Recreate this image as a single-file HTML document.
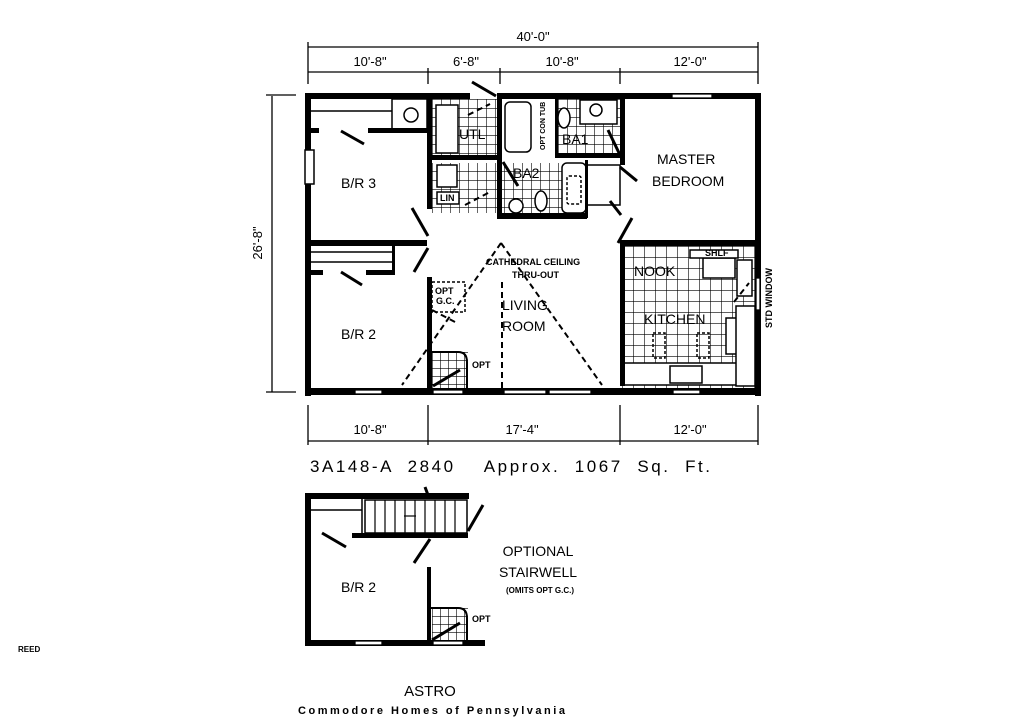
<!DOCTYPE html>
<html><head><meta charset="utf-8"><style>
html,body{margin:0;padding:0;background:#fff;}
svg{display:block;}
text{font-family:"Liberation Sans",Arial,sans-serif;fill:#000;}
</style></head><body>
<svg width="1024" height="719" viewBox="0 0 1024 719" xmlns="http://www.w3.org/2000/svg">
<defs>
<pattern id="t9" width="9" height="9" patternUnits="userSpaceOnUse"><path d="M0 0H9M0 0V9" stroke="#000" stroke-width="1.2" fill="none"/></pattern>
<pattern id="t11" width="11" height="11" patternUnits="userSpaceOnUse" x="622" y="246"><path d="M0 0H11M0 0V11" stroke="#000" stroke-width="1.2" fill="none"/></pattern>
<pattern id="t8" width="8" height="8" patternUnits="userSpaceOnUse"><path d="M0 0H8M0 0V8" stroke="#000" stroke-width="1.2" fill="none"/></pattern>
</defs>

<g stroke="#000" stroke-width="1.3" fill="none">
<line x1="308" y1="47" x2="758" y2="47"/>
<line x1="308" y1="72" x2="758" y2="72"/>
<line x1="308" y1="42" x2="308" y2="84"/>
<line x1="758" y1="42" x2="758" y2="84"/>
<line x1="428" y1="68" x2="428" y2="84"/>
<line x1="500" y1="68" x2="500" y2="84"/>
<line x1="620" y1="68" x2="620" y2="84"/>
<line x1="272" y1="96" x2="272" y2="392"/>
<line x1="266" y1="95" x2="296" y2="95"/>
<line x1="266" y1="392" x2="296" y2="392"/>
<line x1="308" y1="441" x2="758" y2="441"/>
<line x1="308" y1="405" x2="308" y2="445"/>
<line x1="428" y1="405" x2="428" y2="445"/>
<line x1="620" y1="405" x2="620" y2="445"/>
<line x1="758" y1="405" x2="758" y2="445"/>
</g>
<g font-size="13">
<text x="533" y="41" text-anchor="middle">40'-0"</text>
<text x="370" y="66" text-anchor="middle">10'-8"</text>
<text x="466" y="66" text-anchor="middle">6'-8"</text>
<text x="562" y="66" text-anchor="middle">10'-8"</text>
<text x="690" y="66" text-anchor="middle">12'-0"</text>
<text x="370" y="434" text-anchor="middle">10'-8"</text>
<text x="522" y="434" text-anchor="middle">17'-4"</text>
<text x="690" y="434" text-anchor="middle">12'-0"</text>
<text x="0" y="0" text-anchor="middle" transform="translate(262 243) rotate(-90)">26'-8"</text>
</g>
<text x="310" y="472" font-size="17" xml:space="preserve" textLength="400" lengthAdjust="spacing">3A148-A  2840    Approx.  1067  Sq.  Ft.</text>

<rect x="432" y="99" width="65" height="58" fill="url(#t9)"/>
<rect x="432" y="163" width="150" height="50" fill="url(#t9)"/>
<rect x="555" y="99" width="65" height="55" fill="url(#t9)"/>
<rect x="622" y="246" width="133" height="142" fill="url(#t11)"/>
<rect x="432" y="352" width="36" height="36" fill="url(#t8)"/>
<rect x="432" y="608" width="36" height="34" fill="url(#t8)"/>
<g fill="#fff" stroke="#000" stroke-width="1.5">
<rect x="436" y="105" width="22" height="48"/>
<rect x="505" y="102" width="26" height="50" rx="5"/>
<rect x="562" y="163" width="24" height="50" rx="5"/>
<rect x="580" y="100" width="37" height="24"/>
<circle cx="411" cy="115" r="7"/>
<circle cx="596" cy="110" r="6"/>
<circle cx="516" cy="206" r="7"/>
<ellipse cx="564" cy="118" rx="6" ry="10"/>
<ellipse cx="541" cy="201" rx="6" ry="10"/>
<rect x="437" y="165" width="20" height="22"/>
<rect x="437" y="192" width="22" height="12"/>
<rect x="703" y="258" width="32" height="20"/>
<rect x="690" y="250" width="48" height="8"/>
<rect x="622" y="363" width="133" height="22"/>
<rect x="670" y="366" width="32" height="17"/>
<rect x="726" y="318" width="14" height="36"/>
<rect x="737" y="260" width="15" height="36"/>
<rect x="736" y="306" width="19" height="80"/>
<rect x="586" y="165" width="34" height="40"/>
</g>
<g fill="none" stroke="#000" stroke-width="1.5" stroke-dasharray="3 2">
<rect x="567" y="176" width="14" height="28" rx="2"/>
<rect x="653" y="333" width="12" height="25"/>
<rect x="697" y="333" width="12" height="25"/>
<rect x="432" y="282" width="33" height="30"/>
</g>

<g fill="#000">
<rect x="305" y="93" width="165" height="6"/>
<rect x="497" y="93" width="264" height="6"/>
<rect x="305" y="93" width="6" height="303"/>
<rect x="755" y="93" width="6" height="303"/>
<rect x="305" y="388" width="456" height="7"/>
<rect x="368" y="128" width="64" height="5"/>
<rect x="311" y="128" width="8" height="5"/>
<rect x="427" y="99" width="5" height="110"/>
<rect x="427" y="155" width="70" height="5"/>
<rect x="497" y="99" width="5" height="120"/>
<rect x="497" y="213" width="90" height="6"/>
<rect x="555" y="153" width="70" height="5"/>
<rect x="555" y="99" width="3" height="58"/>
<rect x="620" y="99" width="5" height="66"/>
<rect x="585" y="160" width="3" height="58"/>
<rect x="305" y="240" width="122" height="6"/>
<rect x="366" y="270" width="28" height="5"/>
<rect x="311" y="270" width="12" height="5"/>
<rect x="392" y="246" width="3" height="29"/>
<rect x="427" y="277" width="5" height="115"/>
<rect x="620" y="240" width="141" height="6"/>
<rect x="620" y="246" width="5" height="140"/>
<rect x="305" y="150" width="9" height="34" fill="#fff" stroke="#000" stroke-width="1.5"/>
</g>
<g stroke="#000" stroke-width="1.5" fill="none">
<line x1="311" y1="111" x2="392" y2="111"/>
<line x1="311" y1="252" x2="392" y2="252"/>
<line x1="311" y1="262" x2="392" y2="262"/>
<rect x="392" y="99" width="35" height="30"/>
</g>
<g fill="#fff" stroke="#000" stroke-width="1.3">
<rect x="672" y="94" width="40" height="4"/>
<rect x="355" y="390" width="27" height="4"/>
<rect x="433" y="390" width="30" height="4"/>
<rect x="504" y="390" width="42" height="4"/>
<rect x="549" y="390" width="42" height="4"/>
<rect x="673" y="390" width="27" height="4"/>
<rect x="756" y="278" width="4" height="32"/>
</g>
<g stroke="#000" stroke-width="3" fill="none">
<line x1="472" y1="82" x2="496" y2="96"/>
<line x1="341" y1="131" x2="364" y2="144"/>
<line x1="341" y1="272" x2="362" y2="285"/>
<line x1="412" y1="208" x2="428" y2="236"/>
<line x1="414" y1="272" x2="428" y2="248"/>
<line x1="610" y1="201" x2="621" y2="215"/>
<line x1="620" y1="167" x2="637" y2="181"/>
<line x1="618" y1="243" x2="632" y2="218"/>
<line x1="608" y1="130" x2="620" y2="155"/>
<line x1="503" y1="162" x2="518" y2="186"/>
<line x1="433" y1="386" x2="460" y2="370"/>
</g>
<g stroke="#000" stroke-width="2" stroke-dasharray="6 4" fill="none">
<line x1="501" y1="243" x2="402" y2="385"/>
<line x1="501" y1="243" x2="602" y2="385"/>
<line x1="502" y1="282" x2="502" y2="388"/>
<line x1="432" y1="310" x2="455" y2="322"/>
<line x1="468" y1="115" x2="490" y2="104"/>
<line x1="465" y1="205" x2="490" y2="192"/>
<line x1="734" y1="302" x2="749" y2="283"/>
</g>
<path d="M432 352 H458 Q467 352 467 362 V388" fill="none" stroke="#000" stroke-width="2"/>

<g font-size="14">
<text x="341" y="188">B/R 3</text>
<text x="341" y="339">B/R 2</text>
<text x="459" y="139">UTL</text>
<text x="562" y="144">BA1</text>
<text x="513" y="178">BA2</text>
<text x="657" y="164">MASTER</text>
<text x="652" y="186">BEDROOM</text>
<text x="502" y="310">LIVING</text>
<text x="502" y="331">ROOM</text>
<text x="634" y="276">NOOK</text>
<text x="644" y="324">KITCHEN</text>
</g>
<g font-size="9" font-weight="bold">
<text x="486" y="265">CATHEDRAL CEILING</text>
<text x="512" y="278">THRU-OUT</text>
<text x="435" y="294">OPT</text>
<text x="436" y="304">G.C.</text>
<text x="472" y="368">OPT</text>
<text x="440" y="201">LIN</text>
<text x="705" y="256">SHLF</text>
<text x="0" y="0" transform="translate(772 328) rotate(-90)">STD WINDOW</text>
<text x="0" y="0" transform="translate(545 150) rotate(-90)" font-size="7">OPT CON TUB</text>
<text x="18" y="652" font-size="8">REED</text>
</g>

<rect x="365" y="500" width="102" height="33" fill="#fff" stroke="#000" stroke-width="1.5"/>
<g stroke="#000" stroke-width="1.2">
<line x1="375" y1="500" x2="375" y2="533"/><line x1="385" y1="500" x2="385" y2="533"/>
<line x1="395" y1="500" x2="395" y2="533"/><line x1="405" y1="500" x2="405" y2="533"/>
<line x1="415" y1="500" x2="415" y2="533"/><line x1="425" y1="500" x2="425" y2="533"/>
<line x1="435" y1="500" x2="435" y2="533"/><line x1="445" y1="500" x2="445" y2="533"/>
<line x1="455" y1="500" x2="455" y2="533"/>
<line x1="404" y1="516" x2="416" y2="516"/>
</g>
<g fill="#000">
<rect x="305" y="493" width="164" height="6"/>
<rect x="305" y="493" width="6" height="152"/>
<rect x="305" y="640" width="180" height="6"/>
<rect x="352" y="533" width="116" height="5"/>
<rect x="427" y="567" width="4" height="76"/>
</g>
<line x1="311" y1="510" x2="362" y2="510" stroke="#000" stroke-width="1.5"/>
<line x1="362" y1="499" x2="362" y2="533" stroke="#000" stroke-width="1.5"/>
<path d="M431 608 H458 Q467 608 467 618 V642" fill="none" stroke="#000" stroke-width="2"/>
<g fill="#fff" stroke="#000" stroke-width="1.3">
<rect x="355" y="641" width="27" height="4"/>
<rect x="433" y="641" width="30" height="4"/>
</g>
<g stroke="#000" stroke-width="3">
<line x1="425" y1="487" x2="428" y2="495"/>
<line x1="483" y1="505" x2="468" y2="531"/>
<line x1="430" y1="539" x2="414" y2="563"/>
<line x1="322" y1="533" x2="346" y2="547"/>
<line x1="432" y1="640" x2="460" y2="623"/>
</g>
<text x="341" y="592" font-size="14">B/R 2</text>
<text x="472" y="622" font-size="9" font-weight="bold">OPT</text>
<text x="538" y="556" font-size="14" text-anchor="middle">OPTIONAL</text>
<text x="538" y="577" font-size="14" text-anchor="middle">STAIRWELL</text>
<text x="540" y="593" font-size="8" font-weight="bold" text-anchor="middle">(OMITS OPT G.C.)</text>
<text x="430" y="696" font-size="15" text-anchor="middle">ASTRO</text>
<text x="298" y="714" font-size="11" font-weight="bold" textLength="267" lengthAdjust="spacing">Commodore Homes of Pennsylvania</text>
</svg>
</body></html>
